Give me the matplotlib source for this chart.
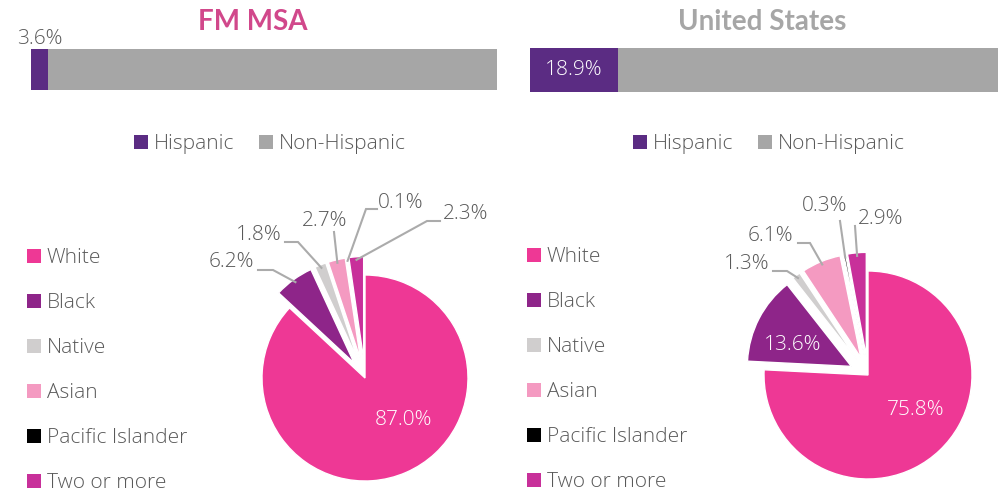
import matplotlib
matplotlib.use('Agg')
import matplotlib.pyplot as plt
from matplotlib.patches import Patch
import numpy as np

# ---------------- data ----------------
titles = ['FM MSA', 'United States']
eth_labels = ['Hispanic', 'Non-Hispanic']
hispanic = [3.6, 18.9]
non_hispanic = [96.4, 81.1]
race_labels = ['White', 'Black', 'Native', 'Asian', 'Pacific Islander', 'Two or more']
fm_race = [87.0, 6.2, 1.8, 2.7, 0.1, 2.3]
us_race = [75.8, 13.6, 1.3, 6.1, 0.3, 2.9]

# ---------------- style ----------------
W, H = 999, 492
FONT = 'Open Sans'
TXT = '#595959'
WT = 'light'
title_colors = ['#D1488B', '#A6A6A6']
eth_colors = ['#5B2C83', '#A6A6A6']
race_colors = ['#EE3895', '#8E2589', '#D0CECE', '#F49AC1', '#000000', '#C8309A']
plt.rcParams['font.family'] = [FONT, 'DejaVu Sans']
plt.rcParams['font.weight'] = WT

fig = plt.figure(figsize=(W / 100, H / 100), dpi=100)


def px_axes(x0, y0, x1, y1):
    return fig.add_axes([x0 / W, 1 - y1 / H, (x1 - x0) / W, (y1 - y0) / H])


def fx(px):
    return px / W


def fy(py):
    return 1 - py / H


panels = [
    dict(title_x=253, bar=(31, 49, 497, 90), label_inside=False, leg_x=270,
         pie_c=(365, 378), pie_r=103, pie_box=(190, 175, 520, 492),
         race=fm_race, explode=0.18, race_leg_x=27, race_leg_y=248,
         inside={0: (403, 420)},
         outside={1: ((231, 262), (258, 270), (273, 270)),
                  2: ((259, 235), (285, 242), (298, 242)),
                  3: ((325, 221), (334, 232), (334, 232)),
                  4: ((401, 203), (377, 209), (366, 209)),
                  5: ((466, 214), (440, 221), (427, 221))}),
    dict(title_x=762, bar=(530, 48, 998, 92), label_inside=True, leg_x=769,
         pie_c=(868, 375), pie_r=104, pie_box=(690, 175, 999, 492),
         race=us_race, explode=0.18, race_leg_x=527, race_leg_y=247,
         inside={0: (916, 410), 1: (793, 345)},
         outside={2: ((747, 264), (773, 271), (787, 271)),
                  3: ((770, 236), (798, 243), (810, 243)),
                  4: ((825, 206), (840, 221), (840, 221)),
                  5: ((881, 219), (855, 226), (855, 226))}),
]

for i, p in enumerate(panels):
    # title
    fig.text(fx(p['title_x']), fy(22.5), titles[i], ha='center', va='center',
             fontsize=20, fontweight='bold', color=title_colors[i],
             family=['Lato', 'DejaVu Sans'])

    # stacked bar
    ax = px_axes(*p['bar'])
    ax.barh([0], [hispanic[i]], height=1.0, color=eth_colors[0])
    ax.barh([0], [non_hispanic[i]], left=[hispanic[i]], height=1.0, color=eth_colors[1])
    ax.set_xlim(0, 100)
    ax.set_ylim(-0.5, 0.5)
    ax.axis('off')
    lab = f'{hispanic[i]:.1f}%'
    if p['label_inside']:
        ax.text(hispanic[i] / 2, 0, lab, ha='center', va='center', color='white', fontsize=15)
    else:
        ax.text(hispanic[i] / 2, 0.5, lab, ha='center', va='bottom', color=TXT, fontsize=15)

    # bar legend
    handles = [Patch(facecolor=c, edgecolor='none') for c in eth_colors]
    fig.legend(handles, eth_labels, loc='center', bbox_to_anchor=(fx(p['leg_x']), fy(144)),
               ncol=2, frameon=False, fontsize=15, labelcolor=TXT,
               handlelength=0.65, handleheight=0.65, handletextpad=0.3,
               columnspacing=1.2, borderpad=0, borderaxespad=0)

    # pie
    cx, cy = p['pie_c']
    r = p['pie_r']
    x0, y0, x1, y1 = p['pie_box']
    pax = px_axes(x0, y0, x1, y1)
    vals = p['race']
    exp = [0] + [p['explode']] * (len(vals) - 1)
    wedges, _ = pax.pie(vals, colors=race_colors, startangle=90, counterclock=False,
                        explode=exp, radius=1.0,
                        wedgeprops=dict(edgecolor='white', linewidth=1.0))
    pax.set_aspect('auto')
    pax.set_xlim((x0 - cx) / r, (x1 - cx) / r)
    pax.set_ylim((cy - y1) / r, (cy - y0) / r)
    pax.axis('off')

    def d(pt):
        return ((pt[0] - cx) / r, (cy - pt[1]) / r)

    for k, pos in p['inside'].items():
        tx, ty = d(pos)
        pax.text(tx, ty, f'{vals[k]:.1f}%', ha='center', va='center', color='white', fontsize=15)
    for k, (tpos, lstart, elbow) in p['outside'].items():
        w = wedges[k]
        th = np.deg2rad((w.theta1 + w.theta2) / 2)
        wx, wy = w.center
        ax_pt = (wx + 0.97 * w.r * np.cos(th), wy + 0.97 * w.r * np.sin(th))
        tx, ty = d(tpos)
        pax.text(tx, ty, f'{vals[k]:.1f}%', ha='center', va='center', color=TXT, fontsize=15)
        a, b = d(lstart)
        c2, e2 = d(elbow)
        pax.plot([a, c2, ax_pt[0]], [b, e2, ax_pt[1]], color='#ABABAB', lw=1.5,
                 solid_joinstyle='miter', clip_on=False)

    # race legend
    handles = [Patch(facecolor=c, edgecolor='none') for c in race_colors]
    fig.legend(handles, race_labels, loc='upper left',
               bbox_to_anchor=(fx(p['race_leg_x']), fy(p['race_leg_y'])),
               ncol=1, frameon=False, fontsize=15, labelcolor=TXT,
               handlelength=0.65, handleheight=0.65, handletextpad=0.3,
               labelspacing=1.2, borderpad=0, borderaxespad=0)

fig.savefig('out.png', dpi=100, facecolor='white')
